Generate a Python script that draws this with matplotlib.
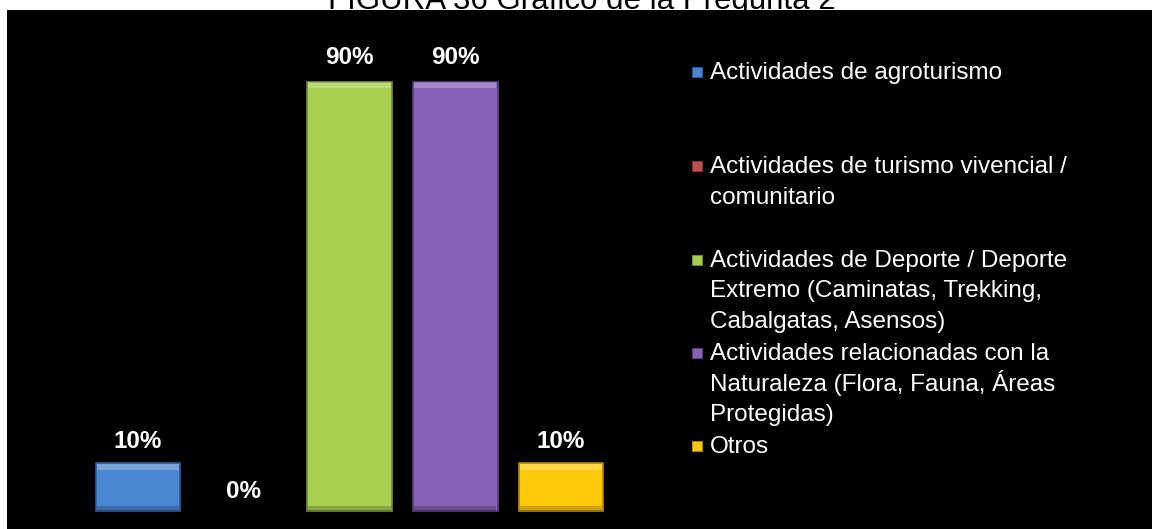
import matplotlib.pyplot as plt
from matplotlib.patches import Rectangle

# ======== Data ========
categories = [
    "Actividades de agroturismo",
    "Actividades de turismo vivencial /\ncomunitario",
    "Actividades de Deporte / Deporte\nExtremo (Caminatas, Trekking,\nCabalgatas, Asensos)",
    "Actividades relacionadas con la\nNaturaleza (Flora, Fauna, Áreas\nProtegidas)",
    "Otros",
]
values = [10, 0, 90, 90, 10]
labels = ["10%", "0%", "90%", "90%", "10%"]
colors = ["#4a86d2", "#c0504d", "#a8cf50", "#8562b5", "#ffc90a"]
edges = ["#2c5a94", "#8a3532", "#6f8f2c", "#5a3f85", "#b08800"]
title = "FIGURA 36 Gráfico de la Pregunta 2"

W, H = 1152, 529
plt.rcParams['font.family'] = ['Liberation Sans', 'DejaVu Sans']

fig = plt.figure(figsize=(W / 100, H / 100), dpi=100, facecolor='white')

# chart area (black), title sits behind it and gets clipped
ax = fig.add_axes([7 / W, 0, (W - 7) / W, (H - 10) / H], facecolor='black')
ax.set_zorder(1)
fig.text(582 / W, 1 - 9 / H, title, ha='center', va='baseline',
         fontsize=22.5, color='black', zorder=0)

# x: bar centers every 105.75 px starting at 138 px
step = 105.75
ax.set_xlim((7 - 138) / step, (W - 138) / step)
# y: baseline at 511 px, 90 -> 82 px
ppu = (511 - 82) / 90
ax.set_ylim(-(H - 511) / ppu, (511 - 10) / ppu)
ax.set_xticks([])
ax.set_yticks([])
for s in ax.spines.values():
    s.set_visible(False)

x = list(range(len(values)))
bars = ax.bar(x, values, width=0.80, color=colors, edgecolor=edges,
              linewidth=[1.2 if v > 0 else 0 for v in values])

# simple bevel: light strip on top, dark strip at bottom
for b in bars:
    if b.get_height() <= 0:
        continue
    bx, bw, bh = b.get_x(), b.get_width(), b.get_height()
    ax.add_patch(Rectangle((bx + 0.01, bh - 1.3), bw - 0.02, 1.2,
                           facecolor='white', alpha=0.25, linewidth=0))
    ax.add_patch(Rectangle((bx + 0.01, 0.1), bw - 0.02, 1.0,
                           facecolor='black', alpha=0.2, linewidth=0))

for xi, v, lab in zip(x, values, labels):
    off = 18 if v > 15 else (16 if v > 0 else 14)
    ax.annotate(lab, (xi, v), xytext=(0, off), textcoords='offset points',
                ha='center', va='center', color='white', fontsize=17.5, fontweight='bold')

# legend, entries evenly spaced, lines every 30.5 px
leg_y = [72, 166, 260, 353, 446]
for cat, c, e, yy in zip(categories, colors, edges, leg_y):
    fig.add_artist(Rectangle((692 / W, 1 - (yy + 5) / H), 10 / W, 10 / H,
                             transform=fig.transFigure, facecolor=c, edgecolor=e,
                             linewidth=0.8, zorder=3))
    for k, line in enumerate(cat.split("\n")):
        fig.text(710 / W, 1 - (yy + 7 + 30.5 * k) / H, line, ha='left', va='baseline',
                 color='white', fontsize=17.5, zorder=3)

fig.savefig("out.png", dpi=100, facecolor='white')
